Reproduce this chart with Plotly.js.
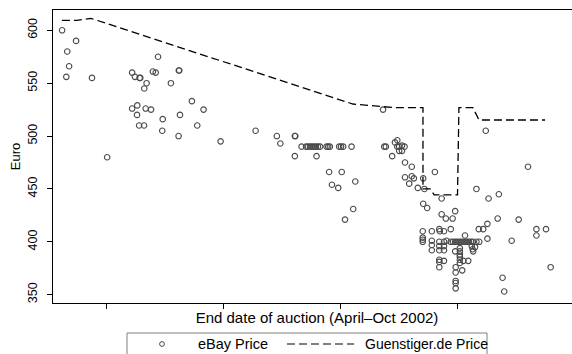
<!DOCTYPE html>
<html>
<head>
<meta charset="utf-8">
<script src="https://cdn.plot.ly/plotly-3.0.1.min.js"></script>
<style>
  html, body { margin: 0; padding: 0; overflow: hidden; background: #fff; }
  #chart { width: 582px; height: 354px; }
</style>
</head>
<body>
<div id="chart"></div>
<script>
// Auction end day (day index on the April–Oct 2002 timeline) and final eBay price in Euro
const ebayDay = [
  30.8, 36.8, 33.0, 33.8, 32.6, 43.6, 50.1, 60.8, 62.0, 64.0,
  64.3, 71.9, 69.7, 70.9, 66.0, 67.0, 77.4, 80.8, 81.0, 60.8,
  63.0, 62.9, 66.6, 68.9, 63.8, 65.9, 73.9, 73.7, 81.3, 80.7,
  86.4, 88.7, 91.4, 98.7, 113.7, 122.8, 124.3, 130.5, 130.7, 130.5,
  139.8, 133.4, 135.3, 136.1, 137.0, 137.8, 138.7, 139.5, 140.4, 141.3,
  144.1, 144.8, 145.5, 149.5, 150.3, 151.2, 154.8, 145.2, 150.6, 146.4,
  149.1, 156.4, 155.5, 152.0, 168.3, 168.8, 169.5, 172.2, 173.4, 174.4,
  174.4, 175.2, 176.4, 177.5, 175.2, 176.4, 177.7, 180.6, 190.5, 177.7,
  180.6, 181.5, 185.5, 179.5, 183.2, 186.0, 193.4, 185.5, 187.2, 193.4,
  195.2, 198.1, 199.2, 212.3, 230.4, 208.3, 213.5, 217.9, 217.4, 226.4,
  213.0, 209.3, 211.2, 234.0, 238.1, 234.0, 213.0, 223.4, 240.1, 219.5,
  220.2, 185.3, 185.3, 185.3, 185.3, 189.2, 192.4, 192.6, 194.4, 197.3,
  203.4, 189.2, 192.4, 194.4, 195.5, 197.3, 198.3, 199.2, 200.0, 200.9,
  201.7, 202.6, 203.4, 204.3, 205.1, 206.0, 206.8, 208.3, 209.5, 189.2,
  189.2, 192.4, 192.4, 194.4, 194.4, 199.2, 201.2, 201.2, 201.2, 201.2,
  206.3, 206.7, 207.7, 206.9, 192.4, 192.4, 194.4, 192.4, 201.2, 201.2,
  202.7, 204.8, 199.4, 202.2, 199.4, 199.4, 199.4, 199.4
];
const ebayPrice = [
  600, 590, 580, 566, 556, 555, 480, 560, 556, 555,
  555, 575, 561, 560, 545, 550, 550, 562, 562, 526,
  529, 520, 526, 525, 510, 510, 516, 505, 520, 500,
  533, 510, 525, 495, 505, 500, 493, 500, 500, 481,
  481, 490, 490, 490, 490, 490, 490, 490, 490, 490,
  490, 490, 490, 490, 490, 490, 490, 466, 466, 454,
  451, 457, 431, 421, 525, 490, 490, 481, 494, 496,
  490, 490, 491, 490, 486, 486, 475, 471, 466, 461,
  462, 460, 460, 455, 451, 450, 441, 436, 432, 426,
  422, 422, 429, 505, 471, 450, 441, 445, 422, 421,
  417, 412, 412, 412, 412, 406, 403, 401, 376, 366,
  353, 410, 404, 402, 400, 410, 412, 410, 410, 412,
  406, 401, 400, 400, 401, 400, 400, 400, 400, 400,
  400, 400, 400, 400, 400, 400, 400, 400, 400, 397,
  392, 396, 392, 396, 392, 391, 394, 391, 388, 386,
  396, 393, 395, 391, 383, 381, 382, 376, 383, 380,
  382, 382, 376, 373, 371, 363, 361, 356
];

// Guenstiger.de reference price over the same period
const gDay   = [30.7, 37.1, 43.1, 155.4, 173.4, 185.4, 185.4, 188.5, 190.2, 200.2, 200.8, 206.8, 209.4, 237.7];
const gPrice = [609.3, 609.3, 611.3, 530.3, 526.8, 526.8, 450.0, 450.0, 444.3, 444.3, 526.8, 526.8, 515.2, 515.2];

const xTicks = [50, 100, 150, 200];
const yTicks = [350, 400, 450, 500, 550, 600];

const seriesNames = ['eBay Price', 'Guenstiger.de Price'];
const pointColor = '#4a4a4a';
const lineColor = '#000000';
const lineDash = '8px,4px';

const traces = [
  {
    type: 'scatter', mode: 'markers', name: seriesNames[0],
    x: ebayDay, y: ebayPrice,
    marker: { symbol: 'circle-open', size: 5.5, color: pointColor, line: { width: 1.1, color: pointColor } },
    hoverinfo: 'x+y'
  },
  {
    type: 'scatter', mode: 'lines', name: seriesNames[1],
    x: gDay, y: gPrice,
    line: { color: lineColor, width: 1.3, dash: lineDash },
    hoverinfo: 'x+y'
  }
];

// plot area spans 53..581 px horizontally and 10..303 px vertically
const L = 53, R = 581, T = 10, B = 303;
const px = v => (v - L) / (R - L);
const py = v => (B - v) / (B - T);

const legendY = py(344);

const layout = {
  width: 582, height: 354,
  margin: { l: L, r: 582 - R, t: T, b: 354 - B },
  paper_bgcolor: '#ffffff', plot_bgcolor: '#ffffff',
  showlegend: false,
  font: { family: '"Liberation Sans", Arial, Helvetica, sans-serif', color: '#000', size: 12 },
  xaxis: {
    range: [26.9, 253.1], tickvals: xTicks, showticklabels: false,
    ticks: 'outside', ticklen: 5, tickwidth: 1, tickcolor: '#000',
    showline: true, linecolor: '#000', linewidth: 1.3, mirror: true,
    showgrid: false, zeroline: false,
    title: { text: 'End date of auction (April\u2013Oct 2002)', font: { size: 15 }, standoff: 4 }
  },
  yaxis: {
    range: [342.15, 619.2], tickvals: yTicks, ticktext: yTicks.map(String),
    ticks: 'outside', ticklen: 5, tickwidth: 1, tickcolor: '#000', tickangle: -90,
    ticklabelstandoff: 5,
    showline: true, linecolor: '#000', linewidth: 1.3, mirror: true,
    showgrid: false, zeroline: false,
    tickfont: { size: 12.5 },
    title: { text: 'Euro', font: { size: 13 }, standoff: 2 }
  },
  shapes: [
    { type: 'rect', xref: 'paper', yref: 'paper', x0: px(127), x1: px(487), y0: py(333), y1: py(362),
      line: { color: '#808080', width: 1 }, fillcolor: 'rgba(0,0,0,0)' },
    { type: 'circle', xref: 'paper', yref: 'paper', xsizemode: 'pixel', ysizemode: 'pixel',
      xanchor: px(162), yanchor: legendY, x0: -2.4, x1: 2.4, y0: -2.4, y1: 2.4,
      line: { color: pointColor, width: 1 } },
    { type: 'line', xref: 'paper', yref: 'paper', x0: px(287), x1: px(354), y0: legendY, y1: legendY,
      line: { color: lineColor, width: 1.2, dash: lineDash } }
  ],
  annotations: [
    { xref: 'paper', yref: 'paper', x: px(197), y: legendY, xanchor: 'left', yanchor: 'middle',
      text: seriesNames[0], showarrow: false, font: { size: 14.5 }, borderpad: 0 },
    { xref: 'paper', yref: 'paper', x: px(364), y: legendY, xanchor: 'left', yanchor: 'middle',
      text: seriesNames[1], showarrow: false, font: { size: 14 }, borderpad: 0 }
  ]
};

Plotly.newPlot('chart', traces, layout, { displayModeBar: false, staticPlot: true });
</script>
</body>
</html>
